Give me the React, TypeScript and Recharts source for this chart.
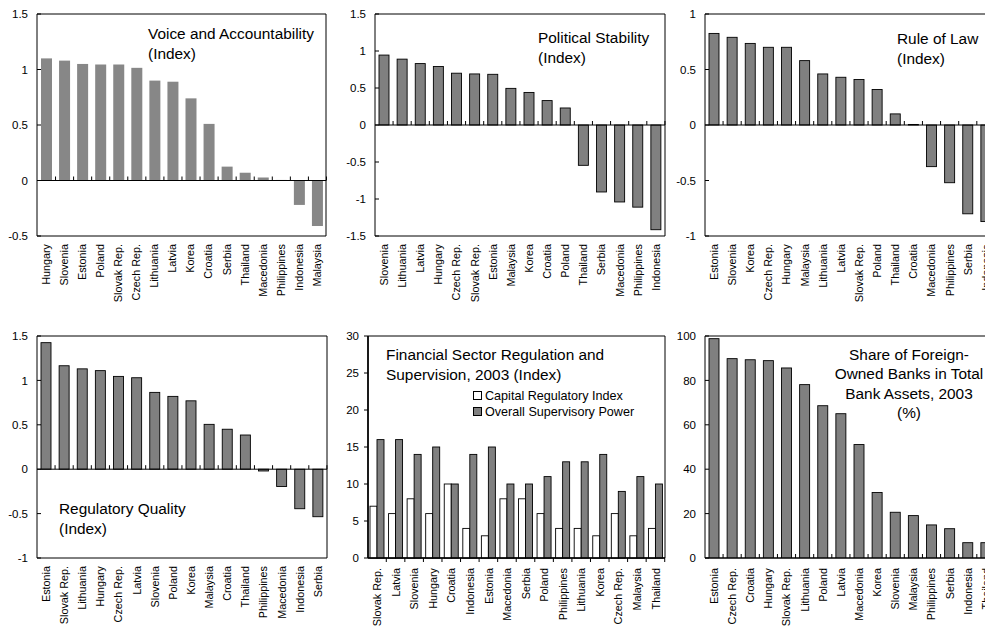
import React from 'react';
import { BarChart, Bar, XAxis, YAxis, ReferenceLine, ReferenceArea } from 'recharts';

const FONT = '"Liberation Sans", Arial, sans-serif';
const GREY = '#808080';

// Voice and Accountability
const vaCountries = ['Hungary', 'Slovenia', 'Estonia', 'Poland', 'Slovak Rep.', 'Czech Rep.', 'Lithuania', 'Latvia', 'Korea', 'Croatia', 'Serbia', 'Thailand', 'Macedonia', 'Philippines', 'Indonesia', 'Malaysia'];
const vaValues = [1.10, 1.08, 1.05, 1.045, 1.045, 1.015, 0.90, 0.89, 0.74, 0.51, 0.125, 0.07, 0.027, 0.005, -0.22, -0.41];

// Political Stability
const psCountries = ['Slovenia', 'Lithuania', 'Latvia', 'Hungary', 'Czech Rep.', 'Slovak Rep.', 'Estonia', 'Malaysia', 'Korea', 'Croatia', 'Poland', 'Thailand', 'Serbia', 'Macedonia', 'Philippines', 'Indonesia'];
const psValues = [0.945, 0.89, 0.83, 0.79, 0.70, 0.69, 0.685, 0.495, 0.44, 0.33, 0.23, -0.545, -0.905, -1.04, -1.11, -1.415];

// Rule of Law
const rlCountries = ['Estonia', 'Slovenia', 'Korea', 'Czech Rep.', 'Hungary', 'Malaysia', 'Lithuania', 'Latvia', 'Slovak Rep.', 'Poland', 'Thailand', 'Croatia', 'Macedonia', 'Philippines', 'Serbia', 'Indonesia'];
const rlValues = [0.825, 0.79, 0.735, 0.70, 0.70, 0.58, 0.46, 0.43, 0.41, 0.32, 0.10, 0.005, -0.375, -0.52, -0.80, -0.87];

// Regulatory Quality
const rqCountries = ['Estonia', 'Slovak Rep.', 'Lithuania', 'Hungary', 'Czech Rep.', 'Latvia', 'Slovenia', 'Poland', 'Korea', 'Malaysia', 'Croatia', 'Thailand', 'Philippines', 'Macedonia', 'Indonesia', 'Serbia'];
const rqValues = [1.425, 1.165, 1.13, 1.11, 1.045, 1.03, 0.865, 0.82, 0.77, 0.505, 0.45, 0.385, -0.02, -0.195, -0.445, -0.535];

// Financial sector regulation and supervision, 2003
const frCountries = ['Slovak Rep.', 'Latvia', 'Slovenia', 'Hungary', 'Croatia', 'Indonesia', 'Estonia', 'Macedonia', 'Serbia', 'Poland', 'Philippines', 'Lithuania', 'Korea', 'Czech Rep.', 'Malaysia', 'Thailand'];
const capitalIndex = [7, 6, 8, 6, 10, 4, 3, 8, 8, 6, 4, 4, 3, 6, 3, 4];
const supervisoryPower = [16, 16, 14, 15, 10, 14, 15, 10, 10, 11, 13, 13, 14, 9, 11, 10];

// Share of foreign-owned banks in total bank assets, 2003 (%)
const fbCountries = ['Estonia', 'Czech Rep.', 'Croatia', 'Hungary', 'Slovak Rep.', 'Lithuania', 'Poland', 'Latvia', 'Macedonia', 'Korea', 'Slovenia', 'Malaysia', 'Philippines', 'Serbia', 'Indonesia', 'Thailand'];
const fbValues = [98.8, 89.8, 89.3, 88.9, 85.6, 78.1, 68.6, 65.0, 51.1, 29.5, 20.6, 19.1, 14.9, 13.2, 6.9, 6.9];

const rows = (cats: string[], vals: number[]) => cats.map((name, i) => ({ name, v: vals[i] }));

function CatTick(props: any) {
  const { x, y, payload } = props;
  return (
    <text x={x} y={y} transform={`rotate(-90, ${x}, ${y})`} textAnchor="end" dy="0.36em"
      fontSize={10.8} fontFamily={FONT} fill="#000">
      {payload.value}
    </text>
  );
}

const yTick = (inside: boolean, gap: number) => (props: any) => {
  const { x, y, payload } = props;
  return (
    <g>
      <text x={x} y={y} textAnchor="end" dy="0.36em" fontSize={11.5} fontFamily={FONT} fill="#000">
        {payload.value}
      </text>
      {inside && <line x1={x + gap} x2={x + gap + 4} y1={y} y2={y} stroke="#000" strokeWidth={1} />}
    </g>
  );
};

// bar with a small category-boundary tick on the base line
const barShape = (band: number, fill: string, stroke: string, up: boolean, key: string, tickAt: 'center' | 'left' | 'none') =>
  (props: any) => {
    const { x, y, width, height, payload } = props;
    const val = payload[key];
    const a = y, b = y + height;
    const top = Math.min(a, b);
    const h = Math.abs(height);
    const base = val >= 0 ? Math.max(a, b) : Math.min(a, b);
    const center = tickAt === 'left' ? x : x + width / 2;
    const bx = center + band / 2;
    return (
      <g>
        <rect x={x} y={top} width={width} height={h} fill={fill}
          stroke={stroke === 'none' ? undefined : stroke} strokeWidth={stroke === 'none' ? 0 : 0.9} />
        {tickAt !== 'none' && (
          <line x1={bx} x2={bx} y1={base} y2={up ? base - 4 : base + 4} stroke="#000" strokeWidth={1} />
        )}
      </g>
    );
  };

type PanelProps = {
  plotLeft: number; plotTop: number; plotW: number;
  data: any[]; domain: [number, number]; ticks: number[];
  barSize: number; fill: string; stroke: string; labelGap: number;
};

const PLOT_H = 222;

function IndexPanel({ plotLeft, plotTop, plotW, data, domain, ticks, barSize, fill, stroke, labelGap }: PanelProps) {
  const band = plotW / data.length;
  return (
    <div style={{ position: 'absolute', left: plotLeft - 40, top: plotTop - 10 }}>
      <BarChart width={plotW + 50} height={PLOT_H + 95} data={data}
        margin={{ top: 10, right: 10, left: 0, bottom: 0 }} barSize={barSize}>
        <XAxis dataKey="name" height={85} axisLine={false} tickLine={false} tickSize={0}
          tickMargin={labelGap} interval={0} tick={<CatTick />} />
        <YAxis width={40} domain={domain} ticks={ticks} type="number" allowDataOverflow
          axisLine={false} tickLine={false} tickSize={0} tickMargin={9} tick={yTick(true, 9)} />
        <ReferenceArea y1={domain[0]} y2={domain[1]} fill="none" stroke="#000" strokeWidth={1} ifOverflow="visible" />
        <Bar dataKey="v" isAnimationActive={false} shape={barShape(band, fill, stroke, true, 'v', 'center')} />
        <ReferenceLine y={0} stroke="#000" strokeWidth={1} />
      </BarChart>
    </div>
  );
}

function RegulationPanel() {
  const plotLeft = 368, plotTop = 336, plotW = 297;
  const data = frCountries.map((name, i) => ({ name, cap: capitalIndex[i], sup: supervisoryPower[i] }));
  const band = plotW / data.length;
  return (
    <div style={{ position: 'absolute', left: plotLeft - 40, top: plotTop - 10 }}>
      <BarChart width={plotW + 50} height={PLOT_H + 95} data={data}
        margin={{ top: 10, right: 10, left: 0, bottom: 0 }} barSize={7} barGap={0}>
        <XAxis dataKey="name" height={85} axisLine={{ stroke: '#000', strokeWidth: 1.6 }} tickLine={false}
          tickSize={0} tickMargin={10} interval={0} tick={<CatTick />} />
        <YAxis width={40} domain={[0, 30]} ticks={[0, 5, 10, 15, 20, 25, 30]} type="number"
          axisLine={{ stroke: '#000', strokeWidth: 1.6 }} tickLine={{ stroke: '#000' }} tickSize={4}
          tickMargin={5} tick={yTick(false, 0)} />
        <ReferenceArea y1={0} y2={30} fill="none" stroke="#000" strokeWidth={1} ifOverflow="visible" />
        <Bar dataKey="cap" isAnimationActive={false} shape={barShape(band, '#fff', '#000', false, 'cap', 'none')} />
        <Bar dataKey="sup" isAnimationActive={false} shape={barShape(band, GREY, '#000', false, 'sup', 'left')} />
      </BarChart>
    </div>
  );
}

const titleStyle: React.CSSProperties = {
  position: 'absolute', fontFamily: FONT, fontSize: 15.4, lineHeight: '20px', color: '#000', whiteSpace: 'pre',
};

function LegendBox({ fill }: { fill: string }) {
  return (
    <span style={{ display: 'inline-block', width: 7, height: 7, border: '1px solid #000', background: fill, marginRight: 3, verticalAlign: 'middle', position: 'relative', top: -1 }} />
  );
}

export default function App() {
  return (
    <div style={{ position: 'absolute', left: 0, top: 0, width: 985, height: 632, overflow: 'hidden', background: '#fff' }}>
      <IndexPanel plotLeft={37} plotTop={14} plotW={289} data={rows(vaCountries, vaValues)}
        domain={[-0.5, 1.5]} ticks={[-0.5, 0, 0.5, 1, 1.5]} barSize={11} fill="#878787" stroke="none" labelGap={8} />
      <IndexPanel plotLeft={375} plotTop={14} plotW={290} data={rows(psCountries, psValues)}
        domain={[-1.5, 1.5]} ticks={[-1.5, -1, -0.5, 0, 0.5, 1, 1.5]} barSize={10} fill={GREY} stroke="#000" labelGap={8} />
      <IndexPanel plotLeft={705} plotTop={14} plotW={290} data={rows(rlCountries, rlValues)}
        domain={[-1, 1]} ticks={[-1, -0.5, 0, 0.5, 1]} barSize={10} fill={GREY} stroke="#000" labelGap={8} />
      <IndexPanel plotLeft={37} plotTop={336} plotW={290} data={rows(rqCountries, rqValues)}
        domain={[-1, 1.5]} ticks={[-1, -0.5, 0, 0.5, 1, 1.5]} barSize={10} fill={GREY} stroke="#000" labelGap={8} />
      <RegulationPanel />
      <IndexPanel plotLeft={705} plotTop={336} plotW={290} data={rows(fbCountries, fbValues)}
        domain={[0, 100]} ticks={[0, 20, 40, 60, 80, 100]} barSize={10} fill={GREY} stroke="#000" labelGap={10} />

      <div style={{ ...titleStyle, left: 148, top: 24 }}>{'Voice and Accountability\n(Index)'}</div>
      <div style={{ ...titleStyle, left: 538, top: 28 }}>{'Political Stability\n(Index)'}</div>
      <div style={{ ...titleStyle, left: 897, top: 29 }}>{'Rule of Law\n(Index)'}</div>
      <div style={{ ...titleStyle, left: 59, top: 499 }}>{'Regulatory Quality\n(Index)'}</div>
      <div style={{ ...titleStyle, left: 386, top: 345 }}>{'Financial Sector Regulation and\nSupervision, 2003 (Index)'}</div>
      <div style={{ ...titleStyle, left: 809, width: 200, top: 345, lineHeight: '19.3px', textAlign: 'center' }}>
        {'Share of Foreign-\nOwned Banks in Total\nBank Assets, 2003\n(%)'}
      </div>

      <div style={{ position: 'absolute', left: 473, top: 389, fontFamily: FONT, fontSize: 12.6, lineHeight: '15.6px', whiteSpace: 'pre' }}>
        <div><LegendBox fill="#fff" />Capital Regulatory Index</div>
        <div><LegendBox fill={GREY} />Overall Supervisory Power</div>
      </div>
    </div>
  );
}
